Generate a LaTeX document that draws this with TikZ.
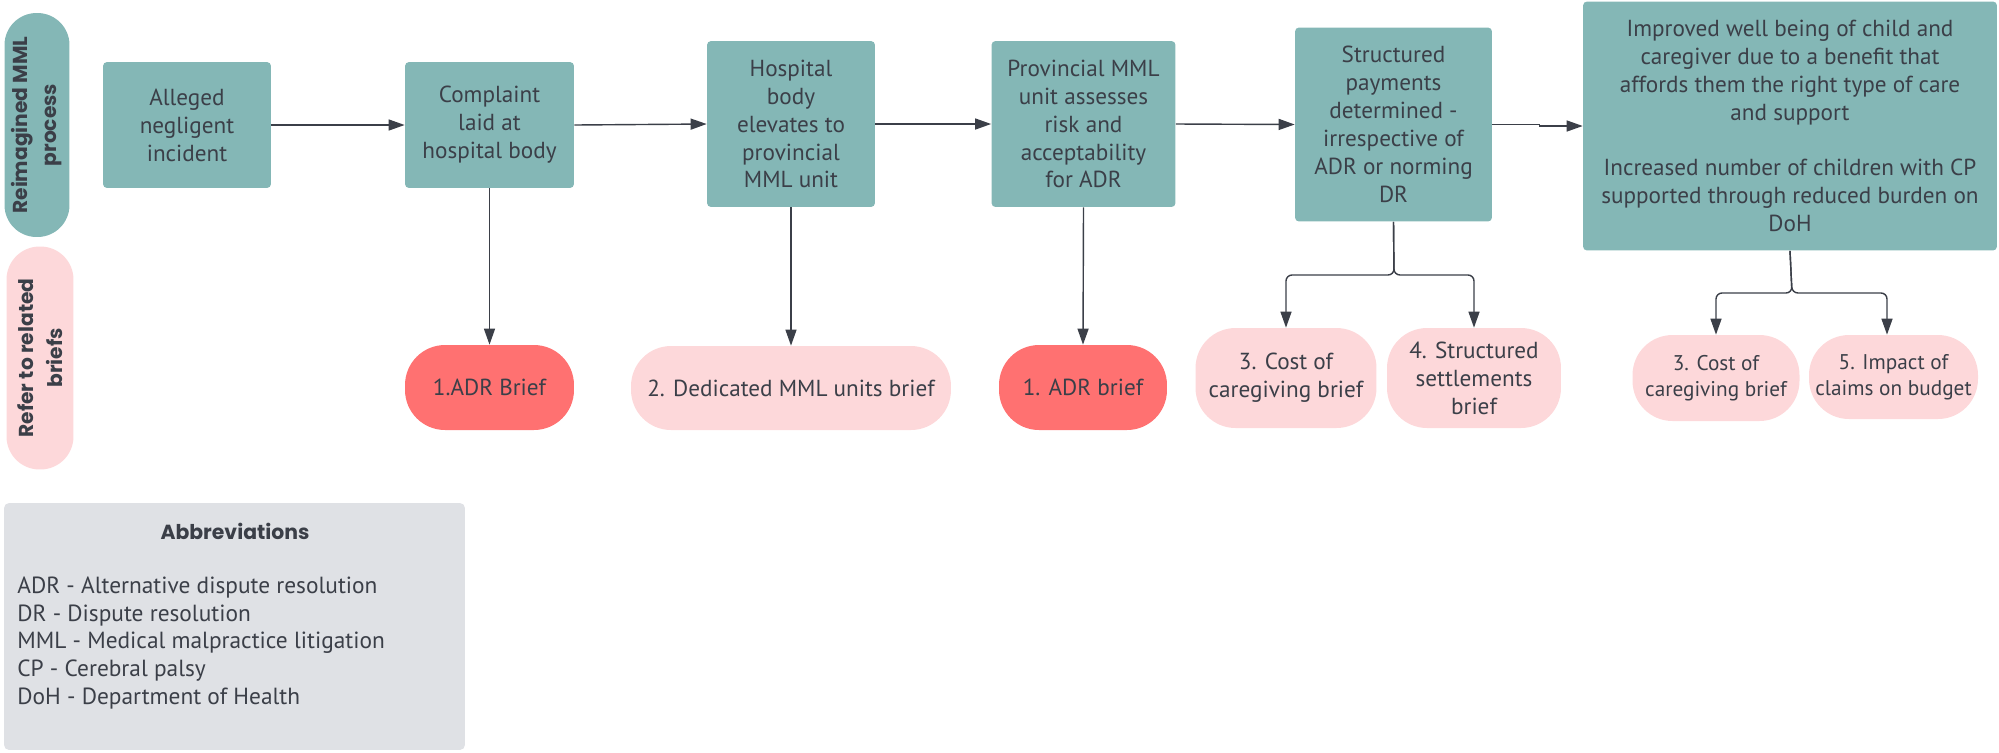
\documentclass[tikz,border=0pt]{standalone}
\usepackage{fontspec}
\setmainfont{PT Sans}
\newfontfamily\headfont{Poppins}
\usetikzlibrary{arrows.meta,positioning,calc}
\definecolor{mmlteal}{RGB}{132,183,182}
\definecolor{briefpink}{RGB}{253,216,218}
\definecolor{briefred}{RGB}{255,113,113}
\definecolor{abbrgray}{RGB}{223,225,229}
\definecolor{inkgray}{RGB}{59,63,72}

\tikzset{
  process/.style={fill=mmlteal, rounded corners=0.08cm, align=center, text=inkgray,
    font=\fontsize{13.2}{15.9}\selectfont, inner sep=0pt},
  brief/.style={fill=briefpink, rounded corners=0.8cm, align=center, text=inkgray,
    font=\fontsize{13.2}{15.9}\selectfont, inner sep=0pt},
  keybrief/.style={brief, fill=briefred},
  lane/.style={rotate=90, align=center, text=inkgray, inner sep=0pt,
    font=\headfont\fontsize{11.5}{16.4}\selectfont\bfseries},
  link/.style={draw=inkgray, line width=0.8pt, rounded corners=0.12cm,
    -{Triangle[length=0.32cm,width=0.22cm]}},
}

\begin{document}
\begin{tikzpicture}[x=0.02cm,y=-0.02cm]
    \useasboundingbox (0,0) rectangle (1999,752);

    % Swim lanes
    \node[lane, fill=mmlteal, minimum width=4.48cm, minimum height=1.3cm, rounded corners=0.64cm]
        (lanemml) at (37,125) {Reimagined MML\\process};
    \node[lane, fill=briefpink, minimum width=4.46cm, minimum height=1.34cm, rounded corners=0.66cm]
        (lanebrief) at (40,358) {Refer to related\\briefs};

    % Process steps
    \node[process, minimum width=3.36cm, minimum height=2.52cm] (alleged) at (187,125)
        {Alleged\\negligent\\incident};
    \node[process, minimum width=3.38cm, minimum height=2.52cm] (complaint) at (489.5,125)
        {Complaint\\laid at\\hospital body};
    \node[process, minimum width=3.36cm, minimum height=3.32cm] (hospital) at (791,124)
        {Hospital\\body\\elevates to\\provincial\\MML unit};
    \node[process, minimum width=3.68cm, minimum height=3.32cm] (provincial) at (1083.5,124)
        {Provincial MML\\unit assesses\\risk and\\acceptability\\for ADR};
    \node[process, minimum width=3.94cm, minimum height=3.88cm] (structured) at (1393.5,124.5)
        {Structured\\payments\\determined -\\irrespective of\\ADR or norming\\DR};
    \node[process, minimum width=8.28cm, minimum height=4.98cm] (improved) at (1790,126)
        {Improved well being of child and\\caregiver due to a benefit that\\affords them the right type of care\\and support\\[15.9pt]
         Increased number of children with CP\\supported through reduced burden on\\DoH};

    % Related briefs
    \node[keybrief, minimum width=3.38cm, minimum height=1.7cm] (adrone) at (489.5,387.5) {1.ADR Brief};
    \node[brief, minimum width=6.4cm, minimum height=1.68cm] (units) at (791,388) {2. Dedicated MML units brief};
    \node[keybrief, minimum width=3.36cm, minimum height=1.7cm] (adrtwo) at (1083,387.5) {1. ADR brief};
    \node[brief, minimum width=3.62cm, minimum height=2cm] (costone) at (1286,378) {3. Cost of\\caregiving brief};
    \node[brief, minimum width=3.48cm, minimum height=2cm] (settle) at (1474,378) {4. Structured\\settlements\\brief};
    \node[brief, minimum width=3.34cm, minimum height=1.72cm, font=\fontsize{12.1}{14.6}\selectfont]
        (costtwo) at (1716,378) {3. Cost of\\caregiving brief};
    \node[brief, minimum width=3.38cm, minimum height=1.68cm, font=\fontsize{12.1}{14.6}\selectfont]
        (impact) at (1893.5,377) {5. Impact of\\claims on budget};

    % Main flow
    \draw[link] (alleged.east) -- (complaint.west);
    \draw[link] (complaint.east) -- (hospital.west);
    \draw[link] (hospital.east) -- (provincial.west);
    \draw[link] (provincial.east) -- (structured.west);
    \draw[link, rounded corners=0pt] (structured.east) -- ++(47,0) |- (improved.west);

    % Links to briefs
    \draw[link] (complaint.south) -- (adrone.north);
    \draw[link] (hospital.south) -- (units.north);
    \draw[link] (provincial.south) -- (adrtwo.north);

    \coordinate (sjoin) at (1394,275);
    \draw[link] (structured.south) -- (sjoin) -| (costone.north);
    \draw[link] (structured.south) -- (sjoin) -| (settle.north);

    \coordinate (ijoin) at (1792,293);
    \draw[link] (improved.south) -- (ijoin) -| (costtwo.north);
    \draw[link] (improved.south) -- (ijoin) -| ([xshift=-0.13cm]impact.north);

    % Abbreviations
    \node[fill=abbrgray, rounded corners=0.1cm, minimum width=9.22cm, minimum height=4.94cm, inner sep=0pt]
        (abbr) at (234.5,626.5) {};
    \node[text=inkgray, font=\headfont\fontsize{11.6}{14}\selectfont\bfseries] (abbrtitle) at (235,531) {Abbreviations};
    \node[anchor=west, align=left, text=inkgray, inner sep=0pt, font=\fontsize{13.3}{15.9}\selectfont]
        (abbrlist) at (17,643)
        {ADR - Alternative dispute resolution\\DR - Dispute resolution\\MML - Medical malpractice litigation\\CP - Cerebral palsy\\DoH - Department of Health};
\end{tikzpicture}
\end{document}
